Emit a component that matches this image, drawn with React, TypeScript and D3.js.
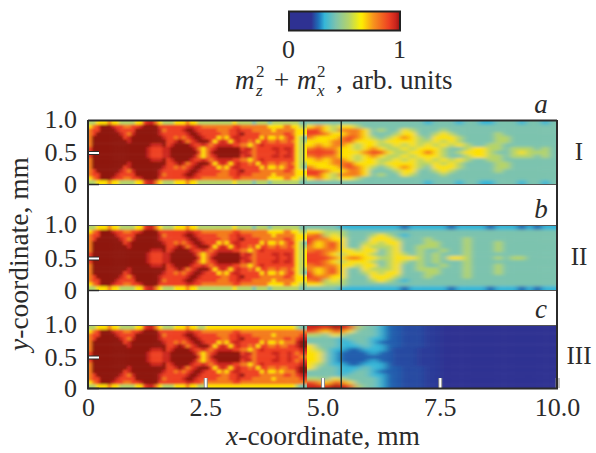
import React, { useEffect, useRef } from 'react';
import * as d3 from 'd3';

// every character is an index into levels (a = 10, b = 11); rows run from the strip centre (y = 0.5) to its edge
const levels = [0.06, 0.245, 0.32, 0.42, 0.54, 0.67, 0.8, 0.9, 0.96, 1, 0.225, 0.21];

// x from 0 to 4.67 mm, two cells for each one of the right hand part
const leftRows = [
  '7999999999 9999987778 8999999975 6899999998 8767777787 787545',
  '7999999999 9999987778 8999999865 6789999997 8867777887 887545',
  '6999999999 9999998889 7899998778 7678888776 6567877777 777545',
  '6999999999 8999999999 7789867899 9757875787 7675776676 676544',
  '6999999997 8999999998 7767678998 7775657887 7777575565 677543',
  '6799999987 6899999987 7777789987 7777667789 7777666666 776555',
  '6779999877 7799999986 7777899877 7776667787 7766666566 666555',
  '5679998776 6778999977 7777788776 6666666776 6666665555 665544',
  '4455565544 4455788654 4455565544 4444444544 4434443444 444433',
];

const leftRowsIII = [
  '7999999999 9999987778 8999999975 6899999998 8767777787 787766',
  '7999999999 9999987778 8999999865 6789999997 8867777887 787677',
  '6999999999 9999998889 7899998778 7678888776 6567877777 777788',
  '6999999999 8999999999 7789867899 9757875787 7675776676 677899',
  '6999999997 8999999998 7767678998 7775657887 7777575565 666899',
  '6799999987 6899999987 7777789987 7777667789 7777666666 776788',
  '6779999877 7799999986 7777899877 7776667787 7766666566 666677',
  '5679998776 6778999977 7777788776 6666666776 6666666666 666666',
  '4455565544 4455788654 4455565544 5555555555 5555555555 555433',
];

const rightRowsI = [
  '7777555677 5445575434 555433454443',
  '6766554565 4454555433 455443444343',
  '5656654554 4545454545 433443333333',
  '5556675554 5555445454 333344333333',
  '6555676543 4565435554 333344333333',
  '7765566533 3455334543 333343333333',
  '7754666534 3354333433 333333333333',
  '5654554333 3333333333 333333333333',
  '3333333333 3333323332 332233323323',
];

const rightRowsII = [
  '7776566554 4555434355 433343443333',
  '7765455543 4543434333 433333333333',
  '6766554553 4533433433 433343333333',
  '6567533544 4533444333 433343333333',
  '7567533454 5533344333 433343333333',
  '7665533355 5433343333 433333333333',
  '6745433345 4323333333 333333333333',
  '5544433333 3333333333 333333333333',
  '3333222222 2212222212 222122212122',
];

const rightRowsIII = [
  '5532111111 1aaabbb000 000000000000',
  '5532111121 1aaabbb000 000000000000',
  '5432211222 1aaabbb000 000000000000',
  '5333222322 11aaabb000 000000000000',
  '3333223321 11aaabb000 000000000000',
  '3333233322 11aaabb000 000000000000',
  '4435433332 11aaabb000 000000000000',
  '7657653332 11aaabb000 000000000000',
  '8879874332 11aaabb000 000000000000',
];

const panelLabels = ['I', 'II', 'III'];
const panelLetters = ['a', 'b', 'c'];
const panelLeft = [leftRows, leftRows, leftRowsIII];
const panelRight = [rightRowsI, rightRowsII, rightRowsIII];
const panelTops = [121, 226, 326];
const panelBottoms = [184, 290, 388];
const xTicks = [0, 2.5, 5, 7.5, 10];
const yTicks = [0, 0.5, 1];
const markerLines = [4.6, 5.4];
const sectionBreak = 4.667;

const colorStops = [0, 0.2, 0.27, 0.32, 0.42, 0.54, 0.65, 0.76, 0.9, 0.97, 1];
const colorRange = ['#2e3192', '#2e3192', '#1c75bc', '#35b6d8', '#7cc3ae', '#b5d468', '#fff200', '#f7941d', '#ee4023', '#c5201c', '#8e1310'];

const serif = '"Liberation Serif", "Times New Roman", serif';
const ink = '#2b2b2b';

const App = () => {
  const svgRef = useRef(null);

  useEffect(() => {
    const svg = d3.select(svgRef.current);
    svg.selectAll('*').remove();

    const color = d3.scaleLinear().domain(colorStops).range(colorRange).clamp(true);
    const x = d3.scaleLinear().domain([0, 10]).range([88, 557]);
    const defs = svg.append('defs');

    const addBlur = (id, dev) => {
      const f = defs.append('filter').attr('id', id)
        .attr('filterUnits', 'userSpaceOnUse')
        .attr('x', 0).attr('y', 0).attr('width', 596).attr('height', 453);
      f.append('feGaussianBlur').attr('stdDeviation', dev);
    };
    addBlur('softFine', '1.7 1.3');
    addBlur('softCoarse', '3 1.4');
    addBlur('softWide', '4.5 1.6');

    const drawSection = (halfRows, range, top, bottom, id, filterId) => {
      // mirror the half strip about the centre
      const half = halfRows.map(r => r.replace(/ /g, ''));
      const rows = [...half.slice(1).reverse(), ...half];
      const colBand = d3.scaleBand().domain(d3.range(half[0].length)).range(range);
      const rowBand = d3.scaleBand().domain(d3.range(rows.length)).range([top, bottom]);

      defs.append('clipPath').attr('id', id)
        .append('rect').attr('x', range[0]).attr('y', top)
        .attr('width', range[1] - range[0]).attr('height', bottom - top);

      const cells = svg.append('g').attr('clip-path', `url(#${id})`)
        .append('g').attr('filter', `url(#${filterId})`);

      rows.forEach((row, r) => {
        row.split('').forEach((digit, c) => {
          // outer cells run past the clip so the blur has no white fringe
          const x0 = colBand(c) - (c === 0 ? 14 : 0);
          const x1 = colBand(c) + colBand.bandwidth() + (c === row.length - 1 ? 14 : 0.5);
          const y0 = rowBand(r) - (r === 0 ? 12 : 0);
          const y1 = rowBand(r) + rowBand.bandwidth() + (r === rows.length - 1 ? 12 : 0.5);
          cells.append('rect')
            .attr('x', x0).attr('y', y0)
            .attr('width', x1 - x0).attr('height', y1 - y0)
            .attr('fill', color(levels[parseInt(digit, 36)]));
        });
      });
    };

    panelTops.forEach((top, p) => {
      const bottom = panelBottoms[p];
      const y = d3.scaleLinear().domain([0, 1]).range([bottom, top]);

      drawSection(panelLeft[p], [x(0), x(sectionBreak)], top, bottom, `left${p}`, 'softFine');
      drawSection(panelRight[p], [x(sectionBreak), x(10)], top, bottom, `right${p}`, p === 2 ? 'softWide' : 'softCoarse');

      markerLines.forEach(m => {
        svg.append('line')
          .attr('x1', x(m)).attr('x2', x(m)).attr('y1', top).attr('y2', bottom)
          .attr('stroke', '#1f2f2a').attr('stroke-width', 1.4);
      });

      svg.append('line').attr('x1', 88).attr('x2', 557).attr('y1', top - 0.5).attr('y2', top - 0.5)
        .attr('stroke', p === 0 ? ink : '#555').attr('stroke-width', p === 0 ? 2 : 1);
      svg.append('line').attr('x1', 88).attr('x2', 557).attr('y1', bottom + 0.5).attr('y2', bottom + 0.5)
        .attr('stroke', '#555').attr('stroke-width', p === 2 ? 0 : 1);

      const axisLeft = svg.append('g').attr('transform', 'translate(88,0)')
        .call(d3.axisLeft(y).tickValues(yTicks).tickSize(-11).tickPadding(11)
          .tickFormat(d => (d === 0 ? '0' : d3.format('.1f')(d))));
      axisLeft.select('.domain').remove();
      axisLeft.selectAll('.tick line').filter(d => d === 1).remove();
      axisLeft.selectAll('.tick line').attr('stroke', ink).attr('stroke-width', d => (d === 0 ? 1.5 : 4));
      axisLeft.selectAll('.tick').filter(d => d === 0.5).select('line').clone(true)
        .attr('stroke', '#fff').attr('stroke-width', 2);
      axisLeft.selectAll('.tick text')
        .attr('font-family', serif).attr('font-size', 26).attr('fill', ink)
        .attr('dy', d => (d === 1 ? '0.24em' : '0.32em'));

      svg.append('text').attr('x', 579).attr('y', (top + bottom) / 2 + 7)
        .attr('text-anchor', 'middle').attr('font-family', serif).attr('font-size', 25).attr('fill', ink)
        .text(panelLabels[p]);
      svg.append('text').attr('x', 541).attr('y', top - 8)
        .attr('text-anchor', 'middle').attr('font-family', serif).attr('font-style', 'italic')
        .attr('font-size', 27).attr('fill', ink)
        .text(panelLetters[p]);
    });

    // bottom axis with white inner ticks
    const axisBottom = svg.append('g').attr('transform', 'translate(0,388)')
      .call(d3.axisBottom(x).tickValues(xTicks).tickSize(-10).tickPadding(10)
        .tickFormat(d => (d === 0 ? '0' : d3.format('.1f')(d))));
    axisBottom.select('.domain').remove();
    axisBottom.selectAll('.tick line').filter(d => d === 0).remove();
    axisBottom.selectAll('.tick line').attr('stroke', '#888').attr('stroke-width', 4).clone(true)
      .attr('stroke', '#fff').attr('stroke-width', 2);
    axisBottom.selectAll('.tick text')
      .attr('font-family', serif).attr('font-size', 26).attr('fill', ink);

    // frame
    svg.append('path')
      .attr('d', 'M88,120V388.5H557V120')
      .attr('fill', 'none').attr('stroke', ink).attr('stroke-width', 2);

    // colour bar
    const barX = d3.scaleLinear().domain([0, 1]).range([289, 400]);
    const gradient = defs.append('linearGradient').attr('id', 'bar');
    d3.range(0, 1.001, 0.02).forEach(t => {
      gradient.append('stop').attr('offset', t).attr('stop-color', color(t));
    });
    svg.append('rect')
      .attr('x', barX(0)).attr('y', 11.5).attr('width', barX(1) - barX(0)).attr('height', 19)
      .attr('fill', 'url(#bar)').attr('stroke', '#222').attr('stroke-width', 2);
    [0, 1].forEach(t => {
      svg.append('text').attr('x', barX(t) - 0.5).attr('y', 58)
        .attr('text-anchor', 'middle').attr('font-family', serif).attr('font-size', 26).attr('fill', ink)
        .text(t);
    });
    const barLabel = svg.append('g').attr('font-family', serif).attr('fill', ink);
    const put = (str, px, py, size, italic) => barLabel.append('text')
      .attr('x', px).attr('y', py).attr('font-size', size)
      .attr('font-style', italic ? 'italic' : 'normal').text(str);
    put('m', 235, 89, 27, true);
    put('z', 256, 96, 17, true);
    put('2', 256, 77, 17, false);
    put('+', 274, 89, 27, false);
    put('m', 297, 89, 27, true);
    put('x', 317, 96, 17, true);
    put('2', 317, 77, 17, false);
    put(',', 336, 89, 27, false);
    put('arb. units', 352, 89, 27, false);

    // axis titles
    const xTitle = svg.append('text').attr('x', 323).attr('y', 445)
      .attr('text-anchor', 'middle').attr('font-family', serif).attr('font-size', 27.5).attr('fill', ink);
    xTitle.append('tspan').attr('font-style', 'italic').text('x');
    xTitle.append('tspan').text('-coordinate, mm');
    const yTitle = svg.append('text').attr('transform', 'translate(28,254) rotate(-90)')
      .attr('text-anchor', 'middle').attr('font-family', serif).attr('font-size', 27.5).attr('fill', ink);
    yTitle.append('tspan').attr('font-style', 'italic').text('y');
    yTitle.append('tspan').text('-coordinate, mm');
  }, []);

  return (
    <svg
      ref={svgRef}
      width={596}
      height={453}
      style={{ position: 'absolute', left: 0, top: 0, background: '#fff' }}
    />
  );
};

export default App;
